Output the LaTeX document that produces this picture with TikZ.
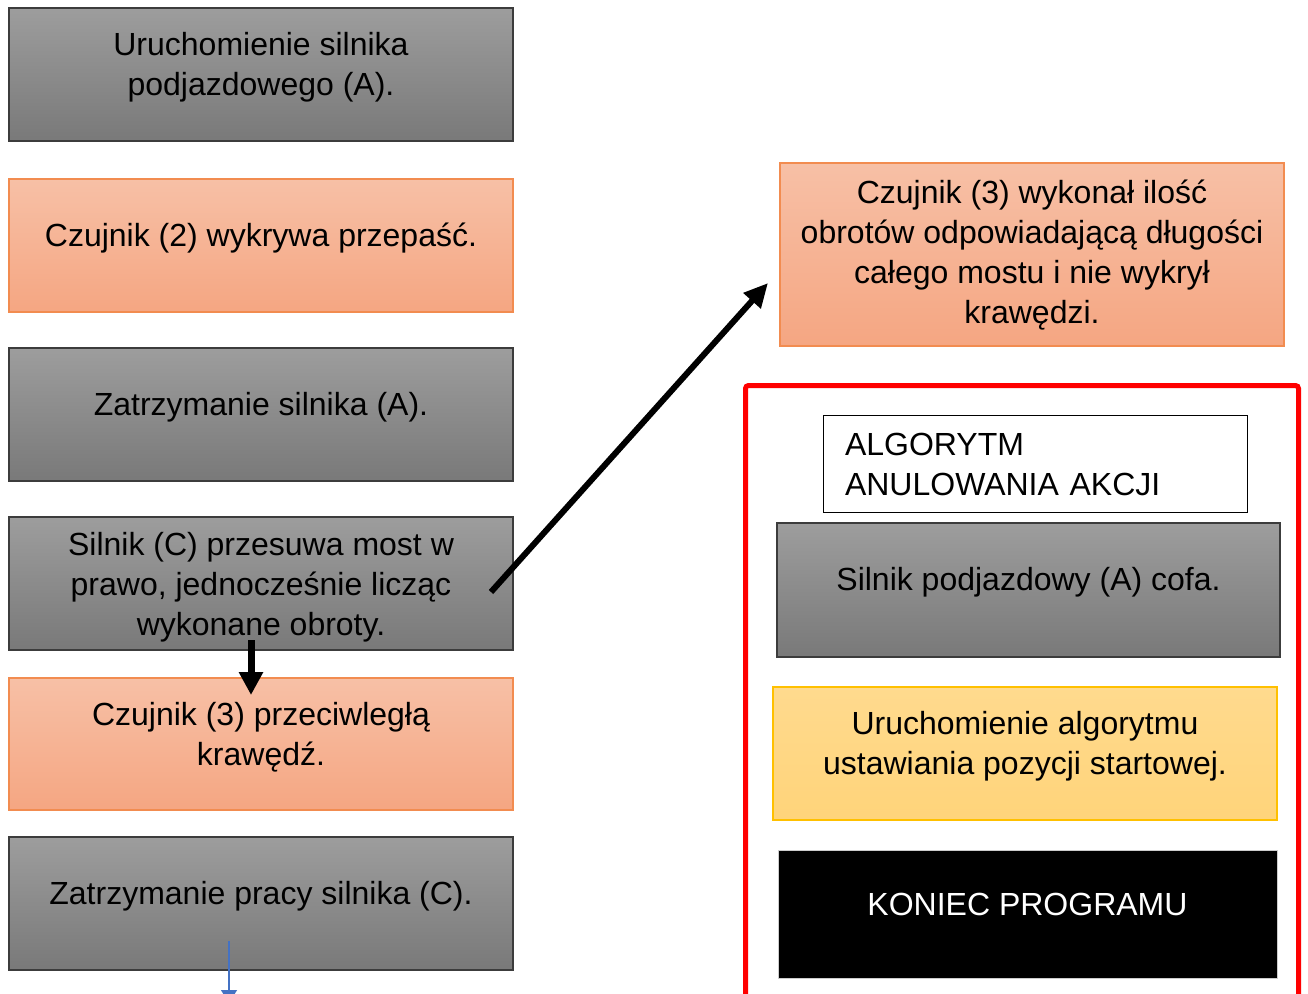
\documentclass[tikz,border=0pt]{standalone}
\usepackage{fontspec}
\setmainfont{Liberation Sans}
\usetikzlibrary{arrows.meta}
\definecolor{szaryGora}{RGB}{157,157,157}
\definecolor{szaryDol}{RGB}{121,121,121}
\definecolor{szaryRama}{RGB}{60,60,60}
\definecolor{pomGora}{RGB}{247,192,166}
\definecolor{pomDol}{RGB}{245,166,130}
\definecolor{pomRama}{RGB}{242,140,80}
\definecolor{zoltyGora}{RGB}{255,218,142}
\definecolor{zoltyDol}{RGB}{255,212,122}
\definecolor{zoltyRama}{RGB}{255,192,0}
\definecolor{niebieski}{RGB}{68,114,196}
\tikzstyle{krok} = [rectangle, inner sep = 0pt, outer sep = 0pt, minimum width = 504pt, minimum height = 133pt, align = center, text depth = 21pt, font = \fontsize{32}{40}\selectfont]
\tikzstyle{szary} = [krok, draw = szaryRama, line width = 1.5pt, top color = szaryGora, bottom color = szaryDol]
\tikzstyle{pomarancz} = [krok, draw = pomRama, line width = 1.5pt, top color = pomGora, bottom color = pomDol]
\tikzstyle{zolty} = [krok, draw = zoltyRama, line width = 1.5pt, top color = zoltyGora, bottom color = zoltyDol]
\tikzstyle{czarny} = [krok, draw = gray!40, line width = 1pt, fill = black, text = white]
\tikzstyle{ramka} = [rectangle, inner sep = 0pt, outer sep = 0pt, draw = black, line width = 1pt, fill = white, text width = 380pt, align = left, font = \fontsize{32}{40}\selectfont]
\tikzstyle{strzalka} = [line width = 6pt, -{Triangle[width = 22pt, length = 24pt]}]

\begin{document}
\begin{tikzpicture}[x = 1pt, y = -1pt]
        \useasboundingbox (0,0) rectangle (1308,993);

        \node [szary] (uruchomienie) at (261,74.5) {Uruchomienie silnika\\podjazdowego (A).};
        \node [pomarancz] (przepasc) at (261,245.5) {Czujnik (2) wykrywa przepaść.};
        \node [szary] (zatrzymanieA) at (261,414.5) {Zatrzymanie silnika (A).};
        \node [szary, text depth = -6pt] (przesuw) at (261,583.5) {Silnik (C) przesuwa most w\\prawo, jednocześnie licząc\\wykonane obroty.};
        \node [pomarancz, minimum height = 132pt] (krawedz) at (261,744) {Czujnik (3) przeciwległą\\krawędź.};
        \node [szary] (zatrzymanieC) at (261,903.5) {Zatrzymanie pracy silnika (C).};

        \node [pomarancz, minimum height = 183pt, text depth = 6pt] (brakKrawedzi) at (1032,254.5)
            {Czujnik (3) wykonał ilość\\obrotów odpowiadającą długości\\całego mostu i nie wykrył\\krawędzi.};

        \draw [red, line width = 5pt, rounded corners = 3pt] (745.5,1000) |- (1298.5,385.5) -- (1298.5,1000);

        \node [ramka, minimum width = 424pt, minimum height = 97pt] (algorytm) at (1035,464) {ALGORYTM\\ANULOWANIA AKCJI};
        \node [szary, minimum width = 503pt, minimum height = 134pt, text depth = 22pt] (cofanie) at (1028.5,590) {Silnik podjazdowy (A) cofa.};
        \node [zolty] (pozycja) at (1025,753.5) {Uruchomienie algorytmu\\ustawiania pozycji startowej.};
        \node [czarny, minimum width = 499pt, minimum height = 128pt, text depth = 19pt] (koniec) at (1027.5,914) {KONIEC PROGRAMU};

        \draw [strzalka] ([xshift = -22pt, yshift = -8.5pt]przesuw.east) -- ([xshift = -12pt, yshift = -28.5pt]brakKrawedzi.west);
        \draw [strzalka, line width = 7pt, -{Triangle[width = 23pt, length = 23pt]}] ([xshift = -10pt, yshift = 10pt]przesuw.south) -- ([xshift = -10pt, yshift = -17pt]krawedz.north);

        \coordinate (dalej) at (229,1003);
        \draw [niebieski, line width = 1.2pt, -{Triangle[width = 16pt, length = 13pt]}] ([xshift = -32pt, yshift = 29pt]zatrzymanieC.south) -- (dalej);
    \end{tikzpicture}
\end{document}
